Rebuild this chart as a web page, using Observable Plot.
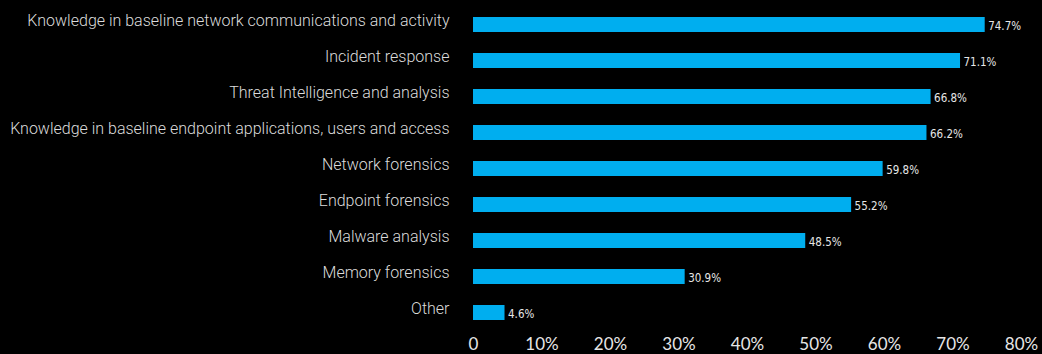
<!DOCTYPE html>
<html>
<head>
<meta charset="utf-8">
<script src="https://cdn.jsdelivr.net/npm/d3@7"></script>
<script src="https://cdn.jsdelivr.net/npm/@observablehq/plot@0.6"></script>
<style>
  html, body { margin: 0; padding: 0; background: #000; }
  #chart svg { display: block; }
</style>
</head>
<body>
<div id="chart"></div>
<script>
const categories = [
  "Knowledge in baseline network communications and activity",
  "Incident response",
  "Threat Intelligence and analysis",
  "Knowledge in baseline endpoint applications, users and access",
  "Network forensics",
  "Endpoint forensics",
  "Malware analysis",
  "Memory forensics",
  "Other"
];
const values = [74.7, 71.1, 66.8, 66.2, 59.8, 55.2, 48.5, 30.9, 4.6];
const xTicks = [0, 10, 20, 30, 40, 50, 60, 70, 80];
const xTickLabels = ["0", "10%", "20%", "30%", "40%", "50%", "60%", "70%", "80%"];

const data = categories.map((c, i) => ({category: c, value: values[i]}));

const chart = Plot.plot({
  width: 1042,
  height: 354,
  marginLeft: 473,
  marginRight: 21,
  marginTop: 17,
  marginBottom: 33,
  style: {background: "#000", color: "#e0e0e0"},
  x: {domain: [0, 80], axis: null},
  y: {domain: categories, paddingInner: 0.58, paddingOuter: 0, axis: null},
  marks: [
    Plot.barX(data, {x: "value", y: "category", fill: "#00aeef"}),
    Plot.text(data, {
      x: "value", y: "category", text: d => d.value.toFixed(1) + "%",
      textAnchor: "start", dx: 3, dy: 1, fill: "#e6e6e6",
      fontSize: 11.5, fontFamily: "DejaVu Sans Condensed", fontStretch: "condensed"
    }),
    Plot.axisY({
      label: null, tickSize: 0, tickPadding: 24, dy: -4,
      fontSize: 16, fontFamily: "Roboto", fontWeight: 300, fill: "#dcdcdc"
    }),
    Plot.axisX({
      label: null, ticks: xTicks, tickFormat: (d, i) => xTickLabels[i],
      tickSize: 0, tickPadding: 16, fontSize: 17, fontFamily: "Lato",
      fill: "#e6e6e6"
    })
  ]
});
document.getElementById("chart").append(chart);
</script>
</body>
</html>
